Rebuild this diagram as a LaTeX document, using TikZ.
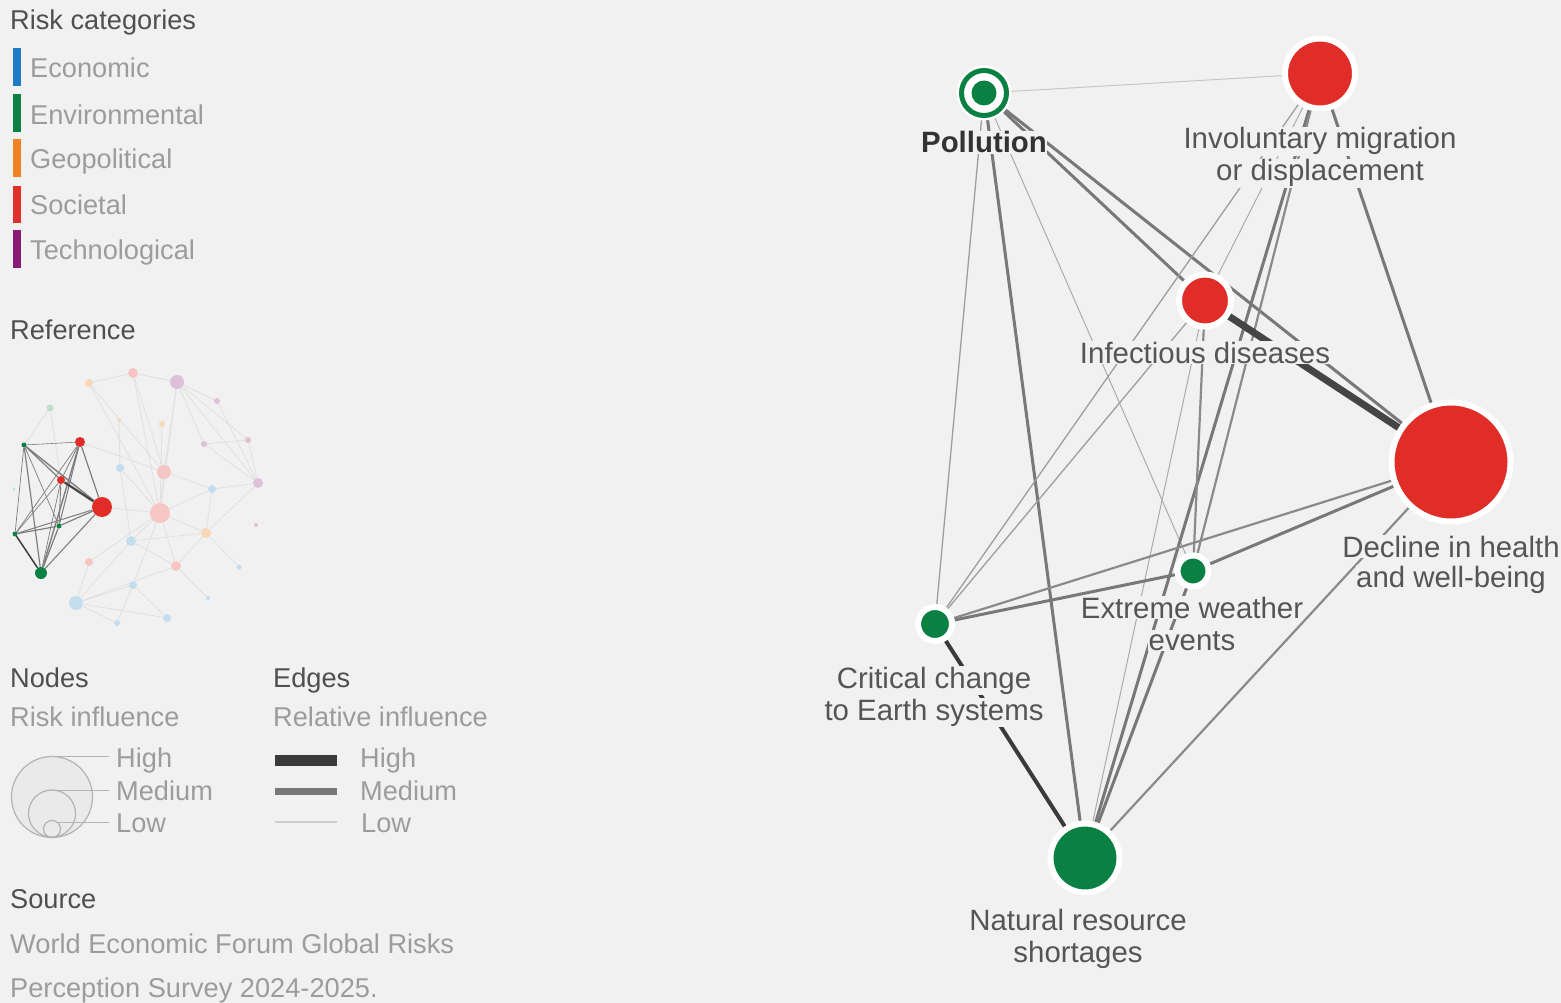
\documentclass[tikz,border=0pt]{standalone}
\usepackage{fontspec}
\setmainfont{Liberation Sans}
\pgfdeclarelayer{back}
\pgfdeclarelayer{edges}
\pgfsetlayers{back,edges,main}
\definecolor{bg}{HTML}{F1F1F1}
\definecolor{headc}{HTML}{4F4F4F}
\definecolor{subc}{HTML}{9C9C9C}
\definecolor{labc}{HTML}{555555}
\definecolor{polc}{HTML}{333333}
\definecolor{nred}{HTML}{E02D27}
\definecolor{ngreen}{HTML}{0A8043}
\definecolor{ceco}{HTML}{1F7BC4}
\definecolor{cenv}{HTML}{0B8043}
\definecolor{cgeo}{HTML}{EE8320}
\definecolor{csoc}{HTML}{E1302A}
\definecolor{ctech}{HTML}{8A1B74}
\definecolor{fr}{HTML}{F5C6C3}
\definecolor{fo}{HTML}{F8D8B6}
\definecolor{fp}{HTML}{DEC0D8}
\definecolor{fb}{HTML}{C4DDEE}
\definecolor{fg}{HTML}{BFDFCB}
\definecolor{vlowc}{HTML}{C6C6C6}
\definecolor{lowc}{HTML}{ABABAB}
\definecolor{lowbc}{HTML}{9E9E9E}
\definecolor{midc}{HTML}{8A8A8A}
\definecolor{medc}{HTML}{787878}
\definecolor{highc}{HTML}{454545}
\definecolor{darkc}{HTML}{3A3A3A}
\definecolor{minic}{HTML}{7E7E7E}
\definecolor{fadec}{HTML}{E0E0E0}
\definecolor{ringc}{HTML}{B3B3B3}
\newcommand\legfont{\fontsize{27.2}{30}\selectfont}
\newcommand\labfont{\fontsize{29.4}{32}\selectfont}
\begin{document}
\begin{tikzpicture}[x=1pt,y=-1pt,
  head/.style={anchor=base west, inner sep=0, text=headc, font=\legfont},
  sub/.style={anchor=base west, inner sep=0, text=subc, font=\legfont},
  lab/.style={anchor=base, inner sep=0.6pt, fill=bg, text=labc, font=\labfont},
  rnode/.style={circle, inner sep=0, draw=white, line width=6pt},
  evlow/.style={draw=vlowc, line width=1pt},
  elow/.style={draw=lowc, line width=1pt},
  elowb/.style={draw=lowbc, line width=1.3pt},
  emid/.style={draw=midc, line width=2.2pt},
  emed/.style={draw=medc, line width=3pt},
  ehigh/.style={draw=highc, line width=7pt},
  edark/.style={draw=darkc, line width=4pt},
  fedge/.style={draw=fadec, line width=0.8pt},
  mnode/.style={circle, inner sep=0}
]
\useasboundingbox (0,0) rectangle (1561,1003);
\begin{pgfonlayer}{back}
\fill[bg] (0,0) rectangle (1561,1003);
\end{pgfonlayer}

% ---------------- Legend: risk categories ----------------
\node[head] (tcat) at (10,30) {Risk categories};
\fill[ceco]  (13,48)  rectangle (21,86);
\fill[cenv]  (13,94)  rectangle (21,132);
\fill[cgeo]  (13,139) rectangle (21,177);
\fill[csoc]  (13,186) rectangle (21,223);
\fill[ctech] (13,230) rectangle (21,268);
\node[sub] (leco) at (30,78) {Economic};
\node[sub] (lenv) at (30,125) {Environmental};
\node[sub] (lgeo) at (30,169) {Geopolitical};
\node[sub] (lsoc) at (30,215) {Societal};
\node[sub] (ltech) at (30,259) {Technological};

% ---------------- Reference mini graph ----------------
\node[head] (tref) at (10,339) {Reference};
\foreach \n/\x/\y/\d/\c in {
  f1/133/373/10/fr, f2/89/383/8/fo, f3/177/382/14/fp, f4/50/408/7/fg,
  f5/217/401/6/fp, f6/119/420/4/fo, f7/162/424/6/fo, f8/204/444/6/fp,
  f9/248/440/6/fp, f10/120/468/8/fb, f11/164/472/14/fr, f12/14/489/3/fg,
  f13/212/489/8/fb, f14/258/483/10/fp, f15/160/513/20/fr, f16/206/533/10/fo,
  f17/256/525/4/fp, f18/131/541/10/fb, f19/89/562/8/fr, f20/176/566/10/fr,
  f21/239/567/5/fb, f22/133/585/8/fb, f23/208/598/4/fb, f24/76/603/14/fb,
  f25/117/623/6/fb, f26/167/618/8/fb,
  mP/24/445/5/ngreen, mIM/80/442/10/nred, mID/61/480/8/nred,
  mDH/102/507/20/nred, mEW/59/526/5/ngreen, mCC/15/534/5/ngreen,
  mNR/41/573/12/ngreen}
  \node[mnode, fill=\c, minimum size=\d pt] (\n) at (\x,\y) {};
\begin{pgfonlayer}{edges}
\foreach \a/\b in {f2/f1, f1/f3, f2/f11, f3/f5, f3/f9, f3/f14, f3/f11, f1/f11,
  f5/f14, f9/f14, f8/f14, f14/f16, f11/f15, f15/f18, f15/f16, f15/f19,
  f15/f20, f15/f22, f18/f24, f24/f22, f24/f26, f24/f25, f22/f26, f20/f23,
  f16/f21, f10/f18, mDH/f15, mIM/f11, f4/mP, f4/mID, f16/f18, f19/f24,
  f20/f24, f25/f22, f15/f10, f2/f15, f1/f15, f3/f15, f11/f13, f15/f13,
  f13/f16, f16/f20, f18/f20, f3/f8, f7/f15, f6/f10, f14/f13, f9/f8}
  \draw[fedge] (\a) -- (\b);
\foreach \a/\b/\w in {mP/mIM/0.6, mP/mID/1.2, mP/mDH/1.4, mP/mNR/1.2,
  mP/mCC/0.7, mP/mEW/0.7, mIM/mCC/0.7, mIM/mID/0.7, mIM/mDH/1.2,
  mIM/mNR/1.4, mIM/mEW/1, mID/mEW/0.9, mID/mNR/0.7, mID/mCC/0.7,
  mEW/mCC/1.2, mCC/mDH/1, mEW/mDH/1.2, mEW/mNR/1.2, mDH/mNR/1.1}
  \draw[draw=minic, line width=\w pt] (\a) -- (\b);
\draw[draw=highc, line width=2.2pt] (mID) -- (mDH);
\draw[draw=darkc, line width=1.4pt] (mCC) -- (mNR);
\end{pgfonlayer}

% ---------------- Nodes / Edges legend ----------------
\node[head] (tnodes) at (10,687) {Nodes};
\node[sub] (tri) at (10,726) {Risk influence};
\filldraw[fill=black!3!bg, draw=ringc, line width=1.2pt] (52,797) circle (40.5);
\draw[ringc, line width=1.2pt] (52,813.5) circle (23.5);
\draw[ringc, line width=1.2pt] (52,829) circle (8.5);
\draw[ringc, line width=1pt] (52,756) -- (109,756);
\draw[ringc, line width=1pt] (52,790) -- (109,790);
\draw[ringc, line width=1pt] (58,822) -- (109,822);
\node[sub] (nh) at (116,767) {High};
\node[sub] (nm) at (116,800) {Medium};
\node[sub] (nl) at (116,832) {Low};

\node[head] (tedges) at (273,687) {Edges};
\node[sub] (tre) at (273,726) {Relative influence};
\fill[darkc] (275,755) rectangle (337,766);
\fill[medc] (275,788) rectangle (337,795);
\fill[black!14!bg] (275,821) rectangle (337,823);
\node[sub] (eh) at (360,767) {High};
\node[sub] (em) at (360,800) {Medium};
\node[sub] (el) at (361,832) {Low};

\node[head] (tsrc) at (10,908) {Source};
\node[sub] (src1) at (10,953) {World Economic Forum Global Risks};
\node[sub] (src2) at (10,997) {Perception Survey 2024-2025.};

% ---------------- Main graph ----------------
\fill[white] (984,93) circle (27.5);
\node[circle, inner sep=0, minimum size=45pt, draw=ngreen, line width=5pt, fill=white] (P) at (984,93) {};
\fill[ngreen] (P.center) circle (12.5);
\node[rnode, fill=nred, minimum size=70pt] (IM) at (1320,73.5) {};
\node[rnode, fill=nred, minimum size=52pt] (ID) at (1205,300.5) {};
\node[rnode, fill=nred, minimum size=119pt] (DH) at (1451,462) {};
\node[rnode, fill=ngreen, minimum size=31pt] (EW) at (1193,571) {};
\node[rnode, fill=ngreen, minimum size=34pt] (CC) at (935,624) {};
\node[rnode, fill=ngreen, minimum size=69pt] (NR) at (1085,858) {};

\begin{pgfonlayer}{edges}
\draw[evlow] (P) -- (IM);
\draw[emed] (P) -- (ID);
\draw[emed] (P) -- (DH);
\draw[emed] (P) -- (NR);
\draw[elowb] (P) -- (CC);
\draw[elow] (P) -- (EW);
\draw[elowb] (IM) -- (CC);
\draw[elow] (IM) -- (ID);
\draw[emed] (IM) -- (DH);
\draw[emed] (IM) -- (NR);
\draw[emid] (IM) -- (EW);
\draw[ehigh] (ID) -- (DH);
\draw[emid] (ID) -- (EW);
\draw[elow] (ID) -- (NR);
\draw[elowb] (ID) -- (CC);
\draw[emed] (EW) -- (CC);
\draw[emid] (CC) -- (DH);
\draw[emed] (EW) -- (DH);
\draw[emed] (EW) -- (NR);
\draw[edark] (CC) -- (NR);
\draw[emid] (DH) -- (NR);
\end{pgfonlayer}

\node[lab, text=polc, font=\labfont\bfseries] (Plab) at (984,153) {Pollution};
\node[lab] (IMlab1) at (1320,149) {Involuntary migration};
\node[lab] (IMlab2) at (1320,181) {or displacement};
\node[lab] (IDlab) at (1205,363) {Infectious diseases};
\node[lab] (DHlab1) at (1451,557) {Decline in health};
\node[lab] (DHlab2) at (1451,587) {and well-being};
\node[lab] (EWlab1) at (1192,618) {Extreme weather};
\node[lab] (EWlab2) at (1192,650) {events};
\node[lab] (CClab1) at (934,688) {Critical change};
\node[lab] (CClab2) at (934,720) {to Earth systems};
\node[lab] (NRlab1) at (1078,930) {Natural resource};
\node[lab] (NRlab2) at (1078,962) {shortages};
\end{tikzpicture}
\end{document}
